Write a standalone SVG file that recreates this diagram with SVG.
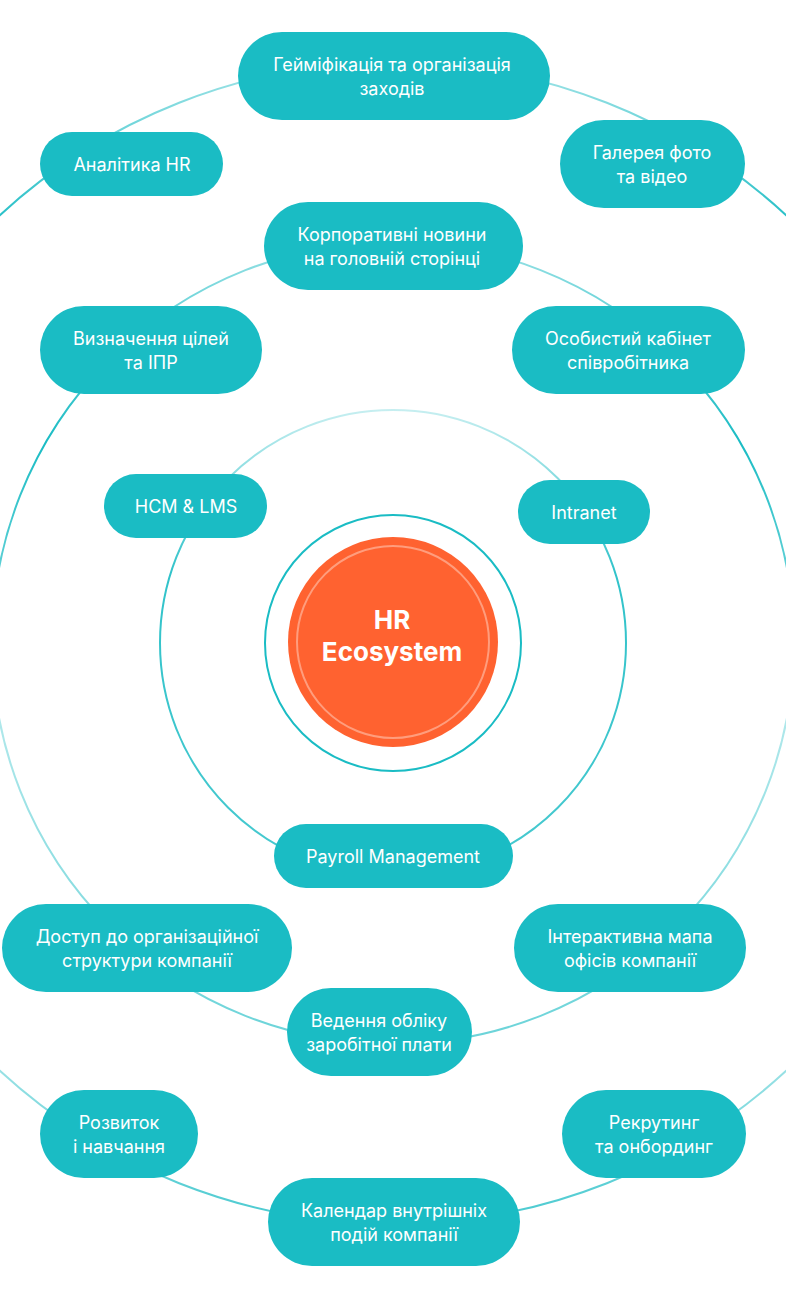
<svg xmlns="http://www.w3.org/2000/svg" width="786" height="1298" viewBox="0 0 786 1298">
<defs>
<style>
.pill{fill:#1ABCC4}
.t{font-family:Inter,"Noto Sans",sans-serif;font-size:18px;fill:#fff;text-anchor:middle}
.ring{fill:none;stroke-width:2}
.ht{font-family:Inter,"Noto Sans",sans-serif;font-size:26px;font-weight:700;fill:#fff;text-anchor:middle}
</style>
<linearGradient id="g2" gradientUnits="userSpaceOnUse" x1="0" y1="410" x2="0" y2="876">
<stop offset="0" stop-color="#1ABCC4" stop-opacity="0.25"/>
<stop offset="0.35" stop-color="#1ABCC4" stop-opacity="0.9"/>
<stop offset="1" stop-color="#1ABCC4" stop-opacity="0.8"/>
</linearGradient>
<linearGradient id="g3" gradientUnits="userSpaceOnUse" x1="0" y1="242" x2="0" y2="1044">
<stop offset="0" stop-color="#1ABCC4" stop-opacity="0.45"/>
<stop offset="0.25" stop-color="#1ABCC4" stop-opacity="1"/>
<stop offset="0.6" stop-color="#1ABCC4" stop-opacity="0.35"/>
<stop offset="1" stop-color="#1ABCC4" stop-opacity="0.65"/>
</linearGradient>
<linearGradient id="g4" gradientUnits="userSpaceOnUse" x1="0" y1="62" x2="0" y2="1224">
<stop offset="0" stop-color="#1ABCC4" stop-opacity="0.4"/>
<stop offset="0.15" stop-color="#1ABCC4" stop-opacity="1"/>
<stop offset="0.85" stop-color="#1ABCC4" stop-opacity="0.4"/>
<stop offset="1" stop-color="#1ABCC4" stop-opacity="0.8"/>
</linearGradient>
</defs>
<rect width="786" height="1298" fill="#fff"/>
<g id="connectors">
<circle class="ring" cx="393" cy="643" r="581" stroke="url(#g4)"/>
<circle class="ring" cx="393" cy="643" r="401" stroke="url(#g3)"/>
<circle class="ring" cx="393" cy="643" r="233" stroke="url(#g2)"/>
<circle class="ring" cx="393" cy="643" r="128" stroke="#1ABCC4"/>
</g>
<g id="hr-ecosystem">
<circle cx="393" cy="642" r="105" fill="#FF6230"/>
<circle cx="393" cy="642" r="96" fill="none" stroke="#FF9D7D" stroke-width="2"/>
<text class="ht" x="392" y="629">HR</text>
<text class="ht" x="392" y="661">Ecosystem</text>
</g>
<g id="gamification"><rect class="pill" x="238" y="32" width="312" height="88" rx="44"/><text class="t" x="392" y="71">Гейміфікація та організація</text><text class="t" x="392" y="95">заходів</text></g>
<g id="analytics"><rect class="pill" x="40" y="132" width="183" height="64" rx="32"/><text class="t" x="132" y="171">Аналітика HR</text></g>
<g id="gallery"><rect class="pill" x="560" y="120" width="185" height="88" rx="44"/><text class="t" x="652" y="159">Галерея фото</text><text class="t" x="652" y="183">та відео</text></g>
<g id="news"><rect class="pill" x="264" y="202" width="259" height="88" rx="44"/><text class="t" x="392" y="241">Корпоративні новини</text><text class="t" x="392" y="265">на головній сторінці</text></g>
<g id="goals"><rect class="pill" x="40" y="306" width="222" height="88" rx="44"/><text class="t" x="151" y="345">Визначення цілей</text><text class="t" x="151" y="369">та ІПР</text></g>
<g id="cabinet"><rect class="pill" x="512" y="306" width="233" height="88" rx="44"/><text class="t" x="628" y="345">Особистий кабінет</text><text class="t" x="628" y="369">співробітника</text></g>
<g id="hcm"><rect class="pill" x="104" y="474" width="163" height="64" rx="32"/><text class="t" x="186" y="513">HCM &amp; LMS</text></g>
<g id="intranet"><rect class="pill" x="518" y="480" width="132" height="64" rx="32"/><text class="t" x="584" y="519">Intranet</text></g>
<g id="payroll"><rect class="pill" x="274" y="824" width="239" height="64" rx="32"/><text class="t" x="393" y="863">Payroll Management</text></g>
<g id="orgstructure"><rect class="pill" x="2" y="904" width="290" height="88" rx="44"/><text class="t" x="147" y="943">Доступ до організаційної</text><text class="t" x="147" y="967">структури компанії</text></g>
<g id="officemap"><rect class="pill" x="514" y="904" width="232" height="88" rx="44"/><text class="t" x="630" y="943">Інтерактивна мапа</text><text class="t" x="630" y="967">офісів компанії</text></g>
<g id="salary"><rect class="pill" x="287" y="988" width="185" height="88" rx="44"/><text class="t" x="379" y="1027">Ведення обліку</text><text class="t" x="379" y="1051">заробітної плати</text></g>
<g id="development"><rect class="pill" x="40" y="1090" width="158" height="88" rx="44"/><text class="t" x="119" y="1129">Розвиток</text><text class="t" x="119" y="1153">і навчання</text></g>
<g id="recruiting"><rect class="pill" x="562" y="1090" width="184" height="88" rx="44"/><text class="t" x="654" y="1129">Рекрутинг</text><text class="t" x="654" y="1153">та онбординг</text></g>
<g id="calendar"><rect class="pill" x="268" y="1178" width="252" height="88" rx="44"/><text class="t" x="394" y="1217">Календар внутрішніх</text><text class="t" x="394" y="1241">подій компанії</text></g>
</svg>
